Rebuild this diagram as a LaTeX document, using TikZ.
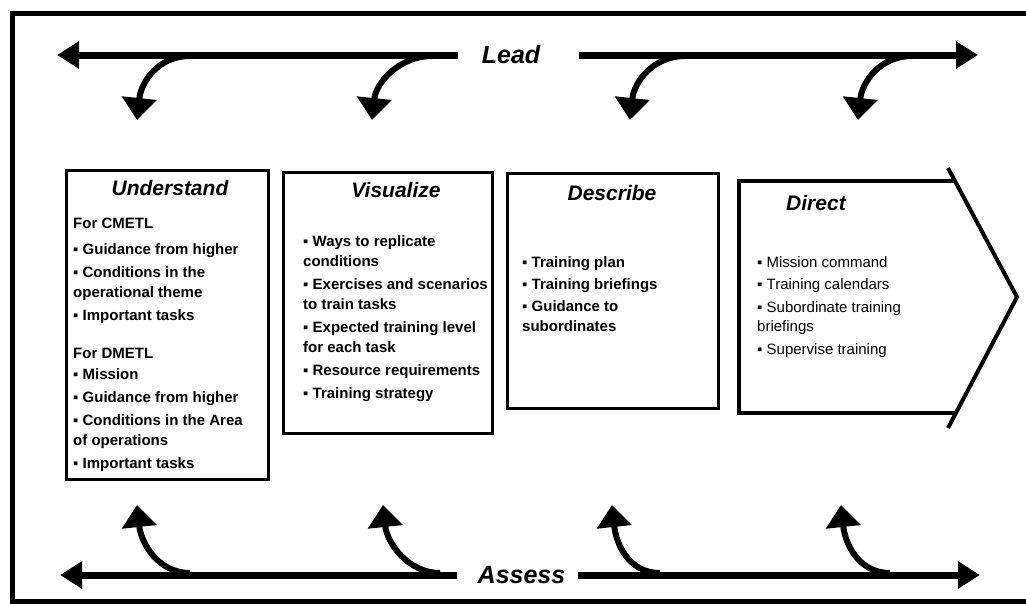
\documentclass[tikz,border=0pt]{standalone}
\usepackage{fontspec}
\setmainfont{Liberation Sans}
\usetikzlibrary{arrows.meta}

\tikzset{
  frame/.style={line width=5pt},
  road/.style={line width=7pt,-{Triangle[length=22pt,width=26pt]}},
  turn/.style={line width=6pt,-{Triangle[length=22pt,width=34pt]}},
  stage/.style={draw,rectangle,line width=3pt,inner sep=0pt},
  heading/.style={font=\fontsize{21}{24}\selectfont\bfseries\itshape,anchor=base,inner sep=0pt},
  body/.style={font=\fontsize{15}{20}\selectfont\bfseries,align=left,anchor=north west,inner sep=0pt},
  plain/.style={font=\fontsize{15}{19.5}\selectfont,align=left,anchor=north west,inner sep=0pt},
  flow/.style={font=\fontsize{25}{27}\selectfont\bfseries\itshape,inner sep=0pt}
}

\begin{document}
\begin{tikzpicture}[x=1pt,y=-1pt]
			\useasboundingbox (0,0) rectangle (1026,603);
			
			%%%%% FRAME %%%%%
			\draw[frame] (1032,13) -- (12,13) -- (12,601) -- (1032,601);
			
			%%%%% LEAD %%%%%
			\node[flow] (lead) at (511,55) {Lead};
			\coordinate (leadL) at (57,55);
			\coordinate (leadR) at (978,55);
			\draw[road] ([xshift=-24pt]lead.west) -- (leadL);
			\draw[road] ([xshift=39pt]lead.east) -- (leadR);
			
			\coordinate (ls1) at (190,56);
			\coordinate (ls2) at (432,56);
			\coordinate (ls3) at (685,56);
			\coordinate (ls4) at (912,56);
			\coordinate (lt1) at (137,120);
			\coordinate (lt2) at (372,120);
			\coordinate (lt3) at (630,120);
			\coordinate (lt4) at (858,120);
			\draw[turn] (ls1) .. controls +(-32,0) and +(4,-38) .. (lt1);
			\draw[turn] (ls2) .. controls +(-32,0) and +(4,-38) .. (lt2);
			\draw[turn] (ls3) .. controls +(-32,0) and +(4,-38) .. (lt3);
			\draw[turn] (ls4) .. controls +(-32,0) and +(4,-38) .. (lt4);
			
			%%%%% ASSESS %%%%%
			\node[flow] (assess) at (521.5,575) {Assess};
			\coordinate (assessL) at (60,575);
			\coordinate (assessR) at (980,575);
			\draw[road] ([xshift=-21pt]assess.west) -- (assessL);
			\draw[road] ([xshift=13pt]assess.east) -- (assessR);
			
			\coordinate (as1) at (190,573);
			\coordinate (as2) at (440,573);
			\coordinate (as3) at (660,573);
			\coordinate (as4) at (890,573);
			\coordinate (at1) at (137,505);
			\coordinate (at2) at (383,505);
			\coordinate (at3) at (612,505);
			\coordinate (at4) at (841,505);
			\draw[turn] (as1) .. controls +(-32,0) and +(4,38) .. (at1);
			\draw[turn] (as2) .. controls +(-32,0) and +(4,38) .. (at2);
			\draw[turn] (as3) .. controls +(-32,0) and +(4,38) .. (at3);
			\draw[turn] (as4) .. controls +(-32,0) and +(4,38) .. (at4);
			
			%%%%% UNDERSTAND %%%%%
			\node[stage, minimum width=202pt, minimum height=309pt] (und) at (167,324.5) {};
			\node[heading] (undT) at (170,195) {Understand};
			\node[body] (undB) at (73,218) {For CMETL\\[6pt]
				▪ Guidance from higher\\[3pt]
				▪ Conditions in the\\
				operational theme\\[3pt]
				▪ Important tasks\\[18pt]
				For DMETL\\[1pt]
				▪ Mission\\[3pt]
				▪ Guidance from higher\\[3pt]
				▪ Conditions in the Area\\
				of operations\\[3pt]
				▪ Important tasks};
			
			%%%%% VISUALIZE %%%%%
			\node[stage, minimum width=209pt, minimum height=261pt] (vis) at (387.5,302.5) {};
			\node[heading] (visT) at (396,197) {Visualize};
			\node[body] (visB) at (303,235) {▪ Ways to replicate\\
				conditions\\[3pt]
				▪ Exercises and scenarios\\
				to train tasks\\[3pt]
				▪ Expected training level\\
				for each task\\[3pt]
				▪ Resource requirements\\[3pt]
				▪ Training strategy};
			
			%%%%% DESCRIBE %%%%%
			\node[stage, minimum width=211pt, minimum height=235pt] (des) at (612.5,290.5) {};
			\node[heading] (desT) at (612,200) {Describe};
			\node[body] (desB) at (522,256) {▪ Training plan\\[2pt]
				▪ Training briefings\\[2pt]
				▪ Guidance to\\
				subordinates};
			
			%%%%% DIRECT %%%%%
			\draw[line width=4pt] (955,181) -- (739,181) -- (739,413) -- (956,413);
			\draw[line width=4pt] (948,168) -- (1017,297) -- (948,428);
			\node[heading] (dirT) at (816,210) {Direct};
			\node[plain] (dirB) at (757,256) {▪ Mission command\\[3pt]
				▪ Training calendars\\[3pt]
				▪ Subordinate training\\
				briefings\\[3pt]
				▪ Supervise training};
			
		\end{tikzpicture}
\end{document}
